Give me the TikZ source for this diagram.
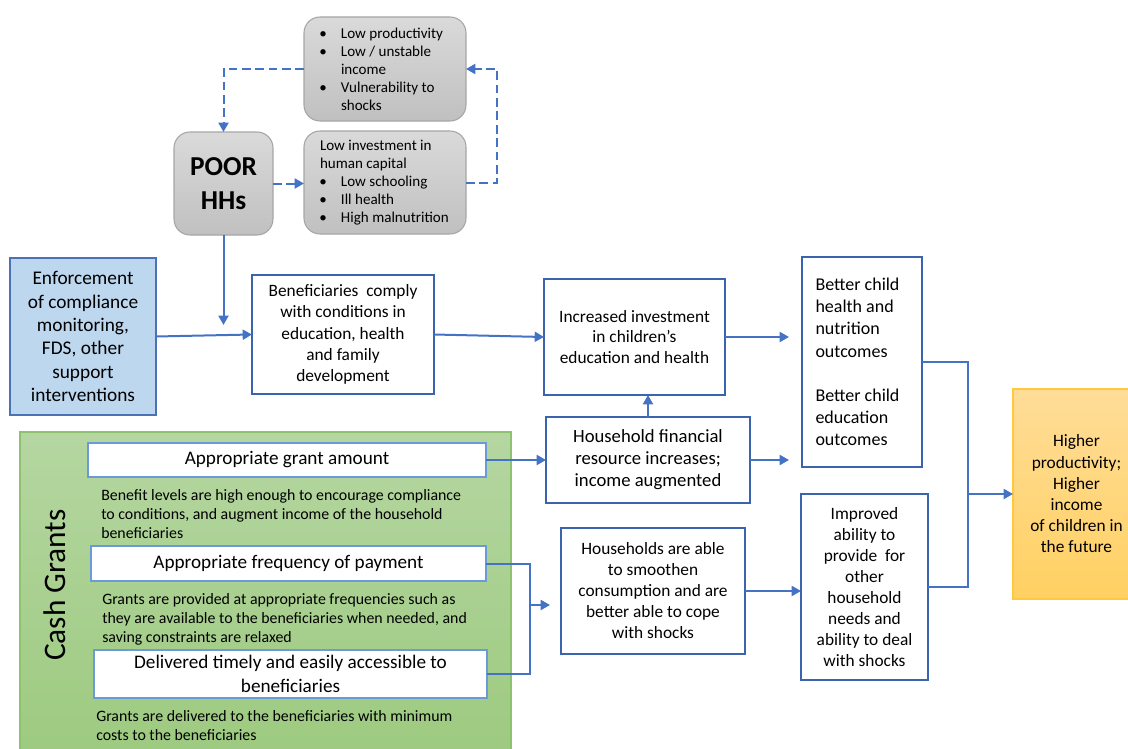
\documentclass[tikz,border=0pt]{standalone}
\usepackage{fontspec}
\setmainfont{Carlito}
\usetikzlibrary{arrows.meta}
\definecolor{lineblue}{HTML}{4472C4}
\definecolor{boxblue}{HTML}{3A64AE}
\definecolor{enfbord}{HTML}{4A72B5}
\definecolor{enffill}{HTML}{BDD7EE}
\definecolor{grantbord}{HTML}{6A9BD8}
\definecolor{grayfilltop}{HTML}{DADADA}
\definecolor{grayfillbot}{HTML}{C0C0C0}
\definecolor{graybord}{HTML}{A6A6A6}
\definecolor{greentop}{HTML}{B5D6A1}
\definecolor{greenbot}{HTML}{9DCA80}
\definecolor{greenbord}{HTML}{8DC26F}
\definecolor{orangetop}{HTML}{FFDD98}
\definecolor{orangebot}{HTML}{FFD062}
\definecolor{orangebord}{HTML}{FFC83D}
\newcommand\pxbox[7]{%
  \pgfmathsetmacro\pxW{((#4)-(#2))*0.75}%
  \pgfmathsetmacro\pxH{((#5)-(#3))*0.75}%
  \node[#6,minimum width=\pxW pt,minimum height=\pxH pt,inner sep=0pt,outer sep=0pt] (#1) at ({((#2)+(#4))/2},{((#3)+(#5))/2}) {#7};}
\newcommand\bul{\makebox[15.75pt][l]{\kern-0.5pt\textbullet}}
\newcommand\ind{\hspace*{15.75pt}}
\begin{document}
\begin{tikzpicture}[x=0.75pt,y=-0.75pt,
  mbox/.style={draw=boxblue,line width=1.3pt,fill=white,align=center,font=\fontsize{13}{15.9}\selectfont},
  graybox/.style={draw=graybord,line width=0.8pt,rounded corners=12pt,top color=grayfilltop,bottom color=grayfillbot},
  graytext/.style={align=flush left,text width=97.5pt,font=\fontsize{11.3}{13.5}\selectfont},
  grantbox/.style={draw=grantbord,line width=1.3pt,fill=white,align=center,font=\fontsize{14.4}{18}\selectfont},
  desc/.style={anchor=west,align=left,inner sep=0pt,font=\fontsize{11.9}{14.25}\selectfont},
  line/.style={draw=lineblue,line width=1.5pt},
  arr/.style={line,-{Triangle[length=7pt,width=7.5pt]}},
  darr/.style={arr,dash pattern=on 6.5pt off 3.5pt}]
\useasboundingbox (0,0) rectangle (1128,749);
% green panel
\path[draw=greenbord,line width=1pt,top color=greentop,bottom color=greenbot] (20,432) rectangle (511,755);
\node[rotate=90,font=\fontsize{23.5}{28}\selectfont] (cg) at (54.5,585) {Cash Grants};
% gray boxes
\pxbox{g1}{304}{17}{466}{121}{graybox,graytext}{\bul Low productivity\\\bul Low / unstable\\\ind income\\\bul Vulnerability to\\\ind shocks}
\pxbox{g2}{304}{131}{466}{234}{graybox,graytext}{Low investment in\\human capital\\\bul Low schooling\\\bul Ill health\\\bul High malnutrition}
\pxbox{poor}{174}{132}{273}{235}{graybox,align=center,font=\fontsize{20.5}{26}\selectfont\bfseries}{POOR\\HHs}
% main boxes
\pxbox{enf}{10}{258}{156}{415}{draw=enfbord,line width=1.3pt,fill=enffill,align=center,font=\fontsize{14.5}{17.5}\selectfont}{Enforcement\\of compliance\\monitoring,\\FDS, other\\support\\interventions}
\pxbox{ben}{252}{275}{434}{394}{mbox}{Beneficiaries\ \ comply\\with conditions in\\education, health\\and family\\development}
\pxbox{inc}{544}{279}{725}{395}{mbox,font=\fontsize{13}{15.5}\selectfont}{Increased investment\\in children’s\\education and health}
\pxbox{hfin}{546}{417}{750}{503}{mbox,font=\fontsize{14}{16.5}\selectfont}{Household financial\\resource increases;\\income augmented}
\pxbox{bc}{802}{257}{922}{467}{mbox,align=flush left,text width=69.75pt,font=\fontsize{13.5}{16.6}\selectfont}{Better child\\health and\\nutrition\\outcomes\\[16.6pt]Better child\\education\\outcomes}
\pxbox{high}{1013}{389}{1140}{599}{draw=orangebord,line width=1pt,top color=orangetop,bottom color=orangebot,align=center,font=\fontsize{13}{15.9}\selectfont}{Higher\\productivity;\\Higher\\income\\of children in\\the future}
\pxbox{hable}{561}{528}{745}{654}{mbox,font=\fontsize{13}{15.75}\selectfont}{Households are able\\to smoothen\\consumption and are\\better able to cope\\with shocks}
\pxbox{impr}{801}{494}{928}{680}{mbox,font=\fontsize{13}{15.8}\selectfont}{Improved\\ability to\\provide\ \ for\\other\\household\\needs and\\ability to deal\\with shocks}
% grant boxes
\pxbox{gamt}{88}{443}{486}{477}{grantbox}{Appropriate grant amount}
\pxbox{gfreq}{91}{546}{486}{581}{grantbox}{Appropriate frequency of payment}
\pxbox{gdel}{94}{650}{487}{698}{grantbox}{Delivered timely and easily accessible to\\beneficiaries}
\node[desc] (d1) at (101,514) {Benefit levels are high enough to encourage compliance\\to conditions, and augment income of the household\\beneficiaries};
\node[desc] (d2) at (102,619) {Grants are provided at appropriate frequencies such as\\they are available to the beneficiaries when needed, and\\saving constraints are relaxed};
\node[desc] (d3) at (96,726) {Grants are delivered to the beneficiaries with minimum\\costs to the beneficiaries};
% dashed cycle
\draw[darr] (g1.west) -| (poor.north);
\draw[darr] (poor.east) -- (poor.east -| g2.west);
\draw[darr] (g2.east) -- ++(31,0) |- (g1.east);
% connectors
\coordinate (pend) at (223.5,325);
\draw[arr] (poor.south) -- (pend);
\draw[arr] (enf.east) -- (ben.west);
\draw[arr] (ben.east) -- (inc.west);
\coordinate (e1) at (789,337);
\draw[arr] (inc.east) -- (e1);
\draw[arr] (hfin.north) -- (hfin.north |- inc.south);
\coordinate (e2) at (789,460);
\draw[arr] (hfin.east) -- (e2);
\draw[arr] (gamt.east) -- (gamt.east -| hfin.west);
\coordinate (jx) at (530,605);
\draw[line] (gfreq.east) -| (jx) |- (gdel.east);
\coordinate (e3) at (550,605);
\draw[arr] (jx) -- (e3);
\draw[arr] (hable.east) -- (hable.east -| impr.west);
\coordinate (mj) at (968,494);
\draw[line] (bc.east) -| (mj);
\draw[line] (impr.east) -| (mj);
\draw[arr] (mj) -- (high.west);
\end{tikzpicture}
\end{document}
